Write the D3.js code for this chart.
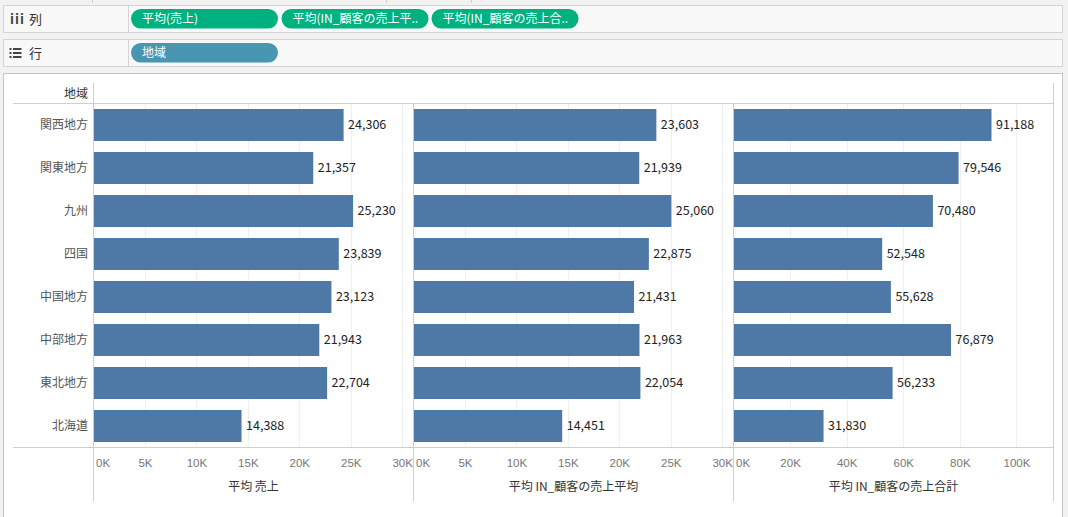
<!DOCTYPE html>
<html><head><meta charset="utf-8">
<script src="https://cdn.jsdelivr.net/npm/d3@7"></script>
<style>
html,body{margin:0;padding:0;background:#f2f2f2;}
svg{display:block;font-family:"Noto Sans CJK JP","Noto Sans",sans-serif;}
</style></head>
<body>
<svg id="c" width="1068" height="517"></svg>
<script>
const regions = ["関西地方","関東地方","九州","四国","中国地方","中部地方","東北地方","北海道"];
const avgSales = [24306,21357,25230,23839,23123,21943,22704,14388];
const avgCustAvg = [23603,21939,25060,22875,21431,21963,22054,14451];
const avgCustTotal = [91188,79546,70480,52548,55628,76879,56233,31830];
const ticksA = [0,5000,10000,15000,20000,25000,30000];
const ticksC = [0,20000,40000,60000,80000,100000];
const colPills = ["平均(売上)","平均(IN_顧客の売上平..","平均(IN_顧客の売上合.."];
const rowPills = ["地域"];
const paneTitles = ["平均 売上","平均 IN_顧客の売上平均","平均 IN_顧客の売上合計"];
const rowHeader = "地域";

const svg = d3.select("#c");

// top toolbar remnants
[92.5,386.5,471.5].forEach(x=>svg.append("line").attr("x1",x).attr("x2",x).attr("y1",0).attr("y2",3).attr("stroke","#d0d0d0"));

// shelves
function shelf(y,h,label,pills,color,icon){
  svg.append("rect").attr("x",3.5).attr("y",y+0.5).attr("width",1059).attr("height",h).attr("fill","#f8f8f8").attr("stroke","#d4d4d4");
  svg.append("line").attr("x1",128.5).attr("x2",128.5).attr("y1",y).attr("y2",y+h+1).attr("stroke","#d4d4d4");
  const cy = y + h/2 + 0.5;
  if(icon==="col"){
    svg.append("text").attr("x",10).attr("y",cy).attr("dy","0.35em").attr("font-size",13).attr("font-weight","bold").attr("fill","#444").attr("letter-spacing","1px").text("iii");
  } else {
    [-4,0,4].forEach(d=>{
      svg.append("rect").attr("x",9.5).attr("y",cy+d-1).attr("width",2).attr("height",2).attr("fill","#444");
      svg.append("rect").attr("x",13).attr("y",cy+d-1).attr("width",8.5).attr("height",2).attr("fill","#444");
    });
  }
  svg.append("text").attr("x",29).attr("y",cy).attr("dy","0.35em").attr("font-size",13).attr("fill","#333").text(label);
  const xs=[131,281.5,431.5];
  pills.forEach((p,i)=>{
    svg.append("rect").attr("x",xs[i]).attr("y",y+4).attr("width",147).attr("height",19.5).attr("rx",9.75).attr("fill",color);
    svg.append("text").attr("x",xs[i]+11).attr("y",cy).attr("dy","0.35em").attr("font-size",12).attr("fill","#fff").text(p);
  });
}
shelf(5,27,"列",colPills,"#00b180","col");
shelf(39,27,"行",rowPills,"#4996b2","row");

// frame
svg.append("rect").attr("x",3.5).attr("y",73.5).attr("width",1059).attr("height",460).attr("fill","#fff").attr("stroke","#c4c4c4");

const y = d3.scaleBand().domain(regions).range([103.5,447.5]).paddingInner(0.256).paddingOuter(0.128);
const panes = [
  {x0:93.5, max:31100, ticks:ticksA, data:avgSales, title:paneTitles[0]},
  {x0:413.5, max:31100, ticks:ticksA, data:avgCustAvg, title:paneTitles[1]},
  {x0:733.5, max:113100, ticks:ticksC, data:avgCustTotal, title:paneTitles[2]}
];
const fmt = d3.format(",");
const kfmt = v => (v/1000)+"K";

panes.forEach(p=>{
  const x = d3.scaleLinear().domain([0,p.max]).range([p.x0,p.x0+320]);
  const g = svg.append("g");
  // gridlines
  g.selectAll("line.grid").data(p.ticks.filter(t=>t>0)).enter().append("line")
    .attr("x1",d=>Math.round(x(d))+0.5).attr("x2",d=>Math.round(x(d))+0.5)
    .attr("y1",104).attr("y2",447).attr("stroke","#efefef");
  // bars
  g.selectAll("rect.bar").data(regions).enter().append("rect")
    .attr("x",x(0)+0.5).attr("y",d=>y(d)).attr("height",y.bandwidth())
    .attr("width",(d,i)=>x(p.data[i])-x(0)-0.5).attr("fill","#4e79a7");
  g.selectAll("text.val").data(regions).enter().append("text")
    .attr("x",(d,i)=>x(p.data[i])+4.5).attr("y",d=>y(d)+y.bandwidth()/2).attr("dy","0.35em")
    .attr("font-size",12.5).attr("fill","#222").text((d,i)=>fmt(p.data[i]));
  // axis
  const ax = svg.append("g").attr("transform","translate(0,447.5)")
    .call(d3.axisBottom(x).tickValues(p.ticks).tickFormat(kfmt).tickSize(0).tickPadding(11));
  ax.select(".domain").remove();
  ax.selectAll("text").attr("font-size",11.5).attr("fill","#777").attr("font-family",null);
  ax.selectAll(".tick").filter(d=>d===0).select("text").attr("text-anchor","start").attr("x",2);
  svg.append("text").attr("x",p.x0+160).attr("y",486.5).attr("dy","0.35em").attr("text-anchor","middle")
    .attr("font-size",12).attr("fill","#333").text(p.title);
});

// row labels
svg.selectAll("text.rl").data(regions).enter().append("text")
  .attr("x",88).attr("y",d=>y(d)+y.bandwidth()/2).attr("dy","0.35em").attr("text-anchor","end")
  .attr("font-size",12).attr("fill","#555").text(d=>d);
svg.append("text").attr("x",88).attr("y",94).attr("dy","0.35em").attr("text-anchor","end")
  .attr("font-size",12).attr("fill","#333").text(rowHeader);

// structure lines
const L=(x1,y1,x2,y2,c)=>svg.append("line").attr("x1",x1).attr("y1",y1).attr("x2",x2).attr("y2",y2).attr("stroke",c||"#cfcfcf");
L(13,103.5,1053.5,103.5);
L(13,447.5,1053.5,447.5);
L(93.5,83,93.5,502);
L(413.5,103.5,413.5,502);
L(733.5,103.5,733.5,502);
L(1053.5,83,1053.5,502);
</script>
</body></html>
